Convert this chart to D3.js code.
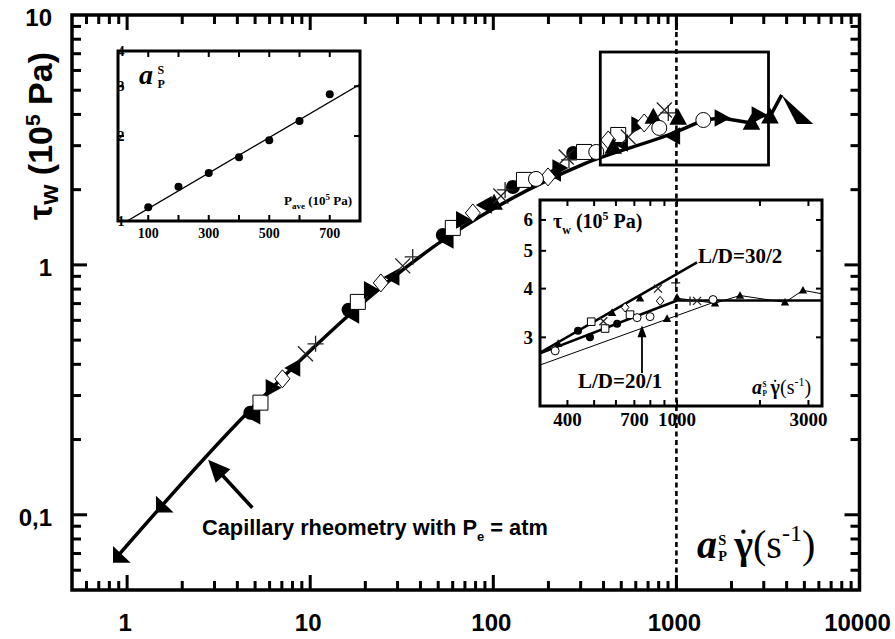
<!DOCTYPE html>
<html><head><meta charset="utf-8">
<script src="https://cdn.jsdelivr.net/npm/d3@7"></script>
<style>body{margin:0;background:#fff}svg{display:block}</style>
</head><body>
<svg id="c" width="895" height="639"></svg>
<script>
// ---------------- DATA ----------------
const xDomain = [0.5, 10000], yDomain = [0.05, 10];
const xTickValues = [1, 10, 100, 1000, 10000], xTickLabels = ["1", "10", "100", "1000", "10000"];
const yTickValues = [0.1, 1, 10], yTickLabels = ["0,1", "1", "10"];
const criticalRate = 1000;
const zoomBox = [[384, 2.51], [3184, 7.11]];

const masterCurve = [[0.881,0.0679],[4.54,0.256],[56.4,1.294],[318,2.547],[1000,3.41],[1403,3.80]];
const highRateLine = [[1403,3.80],[1762,3.87],[2570,3.70],[2806,3.98],[3243,3.92],[3758,4.79]];
const bigTriangle = [[3758,4.79],[5593,3.66],[4538,3.66]];
const annotArrow = [[4.83,0.1067],[2.77,0.166]];

const mainFilledCircle = [[4.71,0.256],[16.2,0.661],[53.0,1.318],[128,2.051],[273,2.805]];
const mainOpenSquare = [[5.35,0.281],[18.2,0.711],[60.1,1.406],[147,2.188],[313,2.831],[481,3.311]];
const mainTriRight = [[6.22,0.322],[21.4,0.794],[68.2,1.514],[229,2.443],[618,3.631],[1762,3.87],[2806,3.98]];
const mainOpenDiamond = [[7.05,0.350],[24.3,0.847],[77.3,1.614],[199,2.249],[424,3.162],[667,3.698]];
const mainTriLeft = [[4.90,0.249],[8.10,0.387],[17.0,0.631],[28.2,0.895],[55.7,1.259],[90.0,1.738],[215,2.333],[499,3.076],[962,3.281]];
const mainTriCorner = [[0.926,0.0692],[1.59,0.110]];
const mainCross = [[9.42,0.441],[32.0,0.991],[110,1.888],[250,2.704],[546,3.251],[859,4.169]];
const mainPlus = [[10.7,0.483],[36.3,1.076],[116,1.995],[259,2.630],[903,4.055]];
const mainOpenCircle = [[171,2.208],[365,2.831],[806,3.532],[1403,3.80]];
const mainTriUp = [[101,1.770],[452,2.965],[748,3.908],[1023,3.873],[2570,3.70],[3243,3.92]];

// inset 1 : shift factor vs average pressure
const pressure = [100, 200, 300, 400, 500, 600, 700];
const shiftFactor = [1.118, 1.323, 1.479, 1.681, 1.93, 2.26, 2.81];
const shiftFit = [[30, 1.0], [800, 3.05]];
const in1XDomain = [0, 800], in1YDomain = [1, 4];
const in1XTickLabels = [100, 300, 500, 700], in1YTickLabels = [1, 2, 3, 4];
const in1XTicks = [100, 200, 300, 400, 500, 600, 700];

// inset 2 : zoom near the critical rate
const in2XDomain = [318, 3360], in2YDomain = [2, 6.75];
const in2XTickLabels = [400, 700, 1000, 3000], in2YTickLabels = [3, 4, 5, 6];
const in2XTicks = [400, 500, 600, 700, 800, 900, 1000, 2000, 3000];
const ld30Line = [[318,2.74],[1182,4.67]];
const ldMidLine = [[318,2.73],[1000,3.73],[3360,3.73]];
const ld20Line = [[318,2.547],[1374,3.70]];
const insetHighLine = [[1000,3.78],[1374,3.67],[1693,3.84],[2466,3.69],[2866,3.96],[3360,3.88]];
const ld20Arrow = [[746,2.43],[746,3.22]];
const insetFilledCircle = [[437,3.12],[483,3.0],[606,3.25]];
const insetOpenSquare = [[488,3.29],[548,3.16],[675,3.43]];
const insetTriUp = [[370,2.89],[581,3.47],[734,3.78],[1000,3.80],[920,3.35],[1374,3.67],[1693,3.84],[2466,3.69],[2866,3.96]];
const insetOpenDiamond = [[648,3.58],[868,3.72]];
const insetCross = [[853,4.00],[1182,3.72],[540,3.30]];
const insetPlus = [[989,4.14],[1115,3.72]];
const insetOpenCircle = [[361,2.77],[716,3.37],[798,3.39],[1351,3.75]];

// main-axis tick positions (decade multiples)
const xMajorTicks = [1, 10, 100, 1000];
const xMinorTicks = [0.6,0.7,0.8,0.9, 2,3,4,5,6,7,8,9, 20,30,40,50,60,70,80,90,
  200,300,400,500,600,700,800,900, 2000,3000,4000,5000,6000,7000,8000,9000];
const yMajorTicks = [0.1, 1];
const yMinorTicks = [0.06,0.07,0.08,0.09, 0.2,0.3,0.4,0.5,0.6,0.7,0.8,0.9, 2,3,4,5,6,7,8,9];

// ---------------- LAYOUT ----------------
const SANS = '"Liberation Sans", Arial, Helvetica, sans-serif';
const SERIF = '"Liberation Serif", "Times New Roman", Times, serif';
const M = {l: 72, r: 859.5, t: 15, b: 590};
const I1 = {l: 118, r: 360, t: 51, b: 221};
const I2 = {l: 540, r: 822, t: 200, b: 406};

const svg = d3.select('#c');
const x = d3.scaleLog().domain(xDomain).range([M.l, M.r]);
const y = d3.scaleLog().domain(yDomain).range([M.b, M.t]);
const x1 = d3.scaleLinear().domain(in1XDomain).range([I1.l, I1.r]);
const y1 = d3.scaleLog().domain(in1YDomain).range([I1.b, I1.t]);
const x2 = d3.scaleLog().domain(in2XDomain).range([I2.l, I2.r]);
const y2 = d3.scaleLog().domain(in2YDomain).range([I2.b, I2.t]);

function shapePath(shape, h) {
  switch (shape) {
    case 'circle': return `M${h},0A${h},${h} 0 1,1 ${-h},0A${h},${h} 0 1,1 ${h},0Z`;
    case 'square': return `M${-h},${-h}h${2*h}v${2*h}h${-2*h}Z`;
    case 'diamond': return `M0,${-1.2*h}L${h},0L0,${1.2*h}L${-h},0Z`;
    case 'triUp': return `M0,${-1.15*h}L${1.1*h},${0.85*h}L${-1.1*h},${0.85*h}Z`;
    case 'triRight': return `M${1.15*h},0L${-0.85*h},${1.1*h}L${-0.85*h},${-1.1*h}Z`;
    case 'triLeft': return `M${-1.15*h},0L${0.85*h},${-1.1*h}L${0.85*h},${1.1*h}Z`;
    case 'corner': return `M${-h},${-1.1*h}L${-h},${h}L${1.2*h},${h}Z`;
    case 'cross': return `M${-h},${-h}L${h},${h}M${-h},${h}L${h},${-h}`;
    case 'plus': return `M${-h},0L${h},0M0,${-h}L0,${h}`;
  }
}
function drawSeries(g, data, xs, ys, shape, h, style) {
  const sel = g.append('g').selectAll('path').data(data).join('path')
    .attr('d', shapePath(shape, h))
    .attr('transform', d => `translate(${xs(d[0])},${ys(d[1])})`);
  if (style === 'filled') sel.attr('fill', '#000');
  else if (style === 'open') sel.attr('fill', '#fff').attr('stroke', '#000').attr('stroke-width', 1);
  else sel.attr('fill', 'none').attr('stroke', '#222').attr('stroke-width', 1.3);
}
function drawLine(g, data, xs, ys, w, curve) {
  g.append('path').datum(data)
    .attr('d', d3.line().x(d => xs(d[0])).y(d => ys(d[1])).curve(curve || d3.curveLinear))
    .attr('fill', 'none').attr('stroke', '#000').attr('stroke-width', w)
    .attr('stroke-linejoin', 'round');
}
function drawArrow(g, data, xs, ys, w, len, half) {
  const x0 = xs(data[0][0]), y0 = ys(data[0][1]), xa = xs(data[1][0]), ya = ys(data[1][1]);
  const ang = Math.atan2(ya - y0, xa - x0);
  const bx = xa - len * Math.cos(ang), by = ya - len * Math.sin(ang);
  g.append('path').attr('d', `M${x0},${y0}L${bx + 2*Math.cos(ang)},${by + 2*Math.sin(ang)}`)
    .attr('fill', 'none').attr('stroke', '#000').attr('stroke-width', w);
  const px = -Math.sin(ang), py = Math.cos(ang);
  g.append('path').attr('d', `M${xa},${ya}L${bx + half*px},${by + half*py}L${bx - half*px},${by - half*py}Z`).attr('fill', '#000');
}
// frame first, then inward ticks as filled rects on top of it
function frameAndTicks(parent, xs, ys, B, xMaj, xMin, yMaj, yMin, LM, Lm, tw, fw) {
  parent.append('rect').attr('x', B.l).attr('y', B.t).attr('width', B.r - B.l).attr('height', B.b - B.t)
    .attr('fill', 'none').attr('stroke', '#000').attr('stroke-width', fw);
  const addV = (v, L) => {
    const p = xs(v);
    parent.append('rect').attr('x', p - tw / 2).attr('y', B.b - L).attr('width', tw).attr('height', L).attr('fill', '#000');
    parent.append('rect').attr('x', p - tw / 2).attr('y', B.t).attr('width', tw).attr('height', L).attr('fill', '#000');
  };
  const addH = (v, L) => {
    const p = ys(v);
    parent.append('rect').attr('x', B.l).attr('y', p - tw / 2).attr('width', L).attr('height', tw).attr('fill', '#000');
    parent.append('rect').attr('x', B.r - L).attr('y', p - tw / 2).attr('width', L).attr('height', tw).attr('fill', '#000');
  };
  xMaj.forEach(v => addV(v, LM)); xMin.forEach(v => addV(v, Lm));
  yMaj.forEach(v => addH(v, LM)); yMin.forEach(v => addH(v, Lm));
}

// ---------------- MAIN AXES ----------------
frameAndTicks(svg, x, y, M, xMajorTicks, xMinorTicks, yMajorTicks, yMinorTicks, 15, 9, 3, 3.5);

const gLab = svg.append('g').attr('font-family', SANS).attr('font-weight', 'bold').attr('font-size', 24).attr('fill', '#000');
xTickValues.forEach((v, i) => gLab.append('text').attr('x', x(v) - 2).attr('y', 631).attr('text-anchor', 'middle').text(xTickLabels[i]));
yTickValues.forEach((v, i) => gLab.append('text').attr('x', 52).attr('y', y(v) + 11).attr('text-anchor', 'end').text(yTickLabels[i]));

// y title
const yt = svg.append('text').attr('transform', 'translate(52,136) rotate(-90)').attr('text-anchor', 'middle')
  .attr('font-family', SANS).attr('font-weight', 'bold').attr('font-size', 34);
yt.append('tspan').text('τ');
yt.append('tspan').attr('font-size', 26).attr('dy', 6).text('w');
yt.append('tspan').attr('dy', -6).text(' (10');
yt.append('tspan').attr('font-size', 21).attr('dy', -12).text('5');
yt.append('tspan').attr('dy', 12).text(' Pa)');

// rate label helper: a_P^S [gamma-dot (s^-1)]
function rateLabel(x0, base, fs, withRate) {
  const g = svg.append('g').attr('font-family', SERIF).attr('fill', '#000');
  g.append('text').attr('x', x0).attr('y', base).attr('font-size', fs).attr('font-weight', 'bold').attr('font-style', 'italic').text('a');
  const ss = withRate ? fs * 0.36 : 12;
  const sx = x0 + fs * (withRate ? 0.53 : 0.66);
  const sp = g.append('text').attr('font-size', ss).attr('font-weight', 'bold');
  sp.append('tspan').attr('x', sx).attr('y', base - fs * (withRate ? 0.33 : 0.37)).text('S');
  sp.append('tspan').attr('x', sx).attr('y', base + fs * (withRate ? 0.08 : 0.14)).text('P');
  if (!withRate) return;
  const gx = x0 + fs * 0.93;
  g.append('text').attr('x', gx).attr('y', base).attr('font-size', fs).attr('font-weight', 'bold').text('γ');
  g.append('circle').attr('cx', gx + fs * 0.23).attr('cy', base - fs * 0.66).attr('r', fs * 0.055).attr('fill', '#000');
  const t = g.append('text').attr('x', x0 + fs * 1.4).attr('y', base).attr('font-size', fs);
  t.append('tspan').text('(s');
  t.append('tspan').attr('font-size', fs * 0.6).attr('dy', -fs * 0.42).text('-1');
  t.append('tspan').attr('dy', fs * 0.42).text(')');
}
rateLabel(697, 558, 40, true);

// ---------------- MAIN DATA ----------------
const gD = svg.append('g');
drawLine(gD, masterCurve, x, y, 3.5, d3.curveMonotoneX);
drawLine(gD, highRateLine, x, y, 3.5);
gD.append('path').datum(bigTriangle)
  .attr('d', d => 'M' + d.map(p => `${x(p[0])},${y(p[1])}`).join('L') + 'Z').attr('fill', '#000');
drawSeries(gD, mainTriCorner, x, y, 'corner', 8, 'filled');
drawSeries(gD, mainTriLeft, x, y, 'triLeft', 8, 'filled');
drawSeries(gD, mainFilledCircle, x, y, 'circle', 7, 'filled');
drawSeries(gD, mainOpenSquare, x, y, 'square', 7.5, 'open');
drawSeries(gD, mainTriRight, x, y, 'triRight', 8, 'filled');
drawSeries(gD, mainOpenDiamond, x, y, 'diamond', 7.5, 'open');
drawSeries(gD, mainTriUp, x, y, 'triUp', 8, 'filled');
drawSeries(gD, mainOpenCircle, x, y, 'circle', 7.5, 'open');
drawSeries(gD, mainCross, x, y, 'cross', 7.5, 'line');
drawSeries(gD, mainPlus, x, y, 'plus', 8, 'line');

// zoom box
svg.append('rect').attr('x', x(zoomBox[0][0])).attr('y', y(zoomBox[1][1]))
  .attr('width', x(zoomBox[1][0]) - x(zoomBox[0][0])).attr('height', y(zoomBox[0][1]) - y(zoomBox[1][1]))
  .attr('fill', 'none').attr('stroke', '#000').attr('stroke-width', 2.8);

// annotation
drawArrow(svg, annotArrow, x, y, 3.5, 22, 10);
const an = svg.append('text').attr('x', 202).attr('y', 535).attr('font-family', SANS).attr('font-weight', 'bold').attr('font-size', 21.8);
an.append('tspan').text('Capillary rheometry with P');
an.append('tspan').attr('font-size', 13).attr('dy', 6).text('e');
an.append('tspan').attr('dy', -6).text(' = atm');

// ---------------- INSET 1 ----------------
const g1 = svg.append('g');
g1.append('rect').attr('x', I1.l).attr('y', I1.t).attr('width', I1.r - I1.l).attr('height', I1.b - I1.t).attr('fill', '#fff');
const cp1 = svg.append('clipPath').attr('id', 'cp1');
cp1.append('rect').attr('x', I1.l).attr('y', I1.t).attr('width', I1.r - I1.l).attr('height', I1.b - I1.t);
const g1c = g1.append('g').attr('clip-path', 'url(#cp1)');
drawLine(g1c, shiftFit, x1, y1, 1.4);
g1c.selectAll('circle.p').data(pressure).join('circle').attr('class', 'p')
  .attr('cx', d => x1(d)).attr('cy', (d, i) => y1(shiftFactor[i])).attr('r', 4).attr('fill', '#000');
frameAndTicks(g1, x1, y1, I1, in1XTicks, [], in1YTickLabels, [], 6, 6, 2, 3);
const gl1 = g1.append('g').attr('font-family', SERIF).attr('font-weight', 'bold').attr('fill', '#000');
in1XTickLabels.forEach(v => gl1.append('text').attr('x', x1(v)).attr('y', 238).attr('text-anchor', 'middle').attr('font-size', 14).text(v));
in1YTickLabels.forEach(v => gl1.append('text').attr('x', I1.l + 6.5).attr('y', y1(v) + 4.5).attr('text-anchor', 'end').attr('font-size', 14).text(v));
const pl = gl1.append('text').attr('x', 352).attr('y', 205).attr('text-anchor', 'end').attr('font-size', 13);
pl.append('tspan').text('P');
pl.append('tspan').attr('font-size', 9).attr('dy', 4).text('ave');
pl.append('tspan').attr('dy', -4).text(' (10');
pl.append('tspan').attr('font-size', 9).attr('dy', -5).text('5');
pl.append('tspan').attr('dy', 5).text(' Pa)');
rateLabel(139, 84, 28, false);

// ---------------- INSET 2 ----------------
const g2 = svg.append('g');
g2.append('rect').attr('x', I2.l).attr('y', I2.t).attr('width', I2.r - I2.l).attr('height', I2.b - I2.t).attr('fill', '#fff');
const cp2 = svg.append('clipPath').attr('id', 'cp2');
cp2.append('rect').attr('x', I2.l).attr('y', I2.t).attr('width', I2.r - I2.l).attr('height', I2.b - I2.t);
const g2c = g2.append('g').attr('clip-path', 'url(#cp2)');
drawLine(g2c, ld20Line, x2, y2, 1);
drawLine(g2c, insetHighLine, x2, y2, 1);
drawLine(g2c, ldMidLine, x2, y2, 2.6);
drawLine(g2c, ld30Line, x2, y2, 2.6);
drawSeries(g2c, insetTriUp, x2, y2, 'triUp', 3.8, 'filled');
drawSeries(g2c, insetFilledCircle, x2, y2, 'circle', 4, 'filled');
drawSeries(g2c, insetOpenSquare, x2, y2, 'square', 3.8, 'open');
drawSeries(g2c, insetOpenDiamond, x2, y2, 'diamond', 3.8, 'open');
drawSeries(g2c, insetOpenCircle, x2, y2, 'circle', 4, 'open');
drawSeries(g2c, insetCross, x2, y2, 'cross', 4, 'line');
drawSeries(g2c, insetPlus, x2, y2, 'plus', 4.5, 'line');
drawArrow(g2, ld20Arrow, x2, y2, 1.8, 12, 4.5);
frameAndTicks(g2, x2, y2, I2, in2XTicks, [], in2YTickLabels, [], 6, 6, 2, 3);
const gl2 = g2.append('g').attr('font-family', SERIF).attr('font-weight', 'bold').attr('fill', '#000').attr('font-size', 19);
in2XTickLabels.forEach(v => gl2.append('text').attr('x', x2(v)).attr('y', 426).attr('text-anchor', 'middle').text(v));
in2YTickLabels.forEach(v => gl2.append('text').attr('x', 533).attr('y', y2(v) + 6.5).attr('text-anchor', 'end').text(v));
const tl = gl2.append('text').attr('x', 553).attr('y', 228).attr('font-size', 20);
tl.append('tspan').text('τ');
tl.append('tspan').attr('font-size', 12).attr('dy', 6).text('w');
tl.append('tspan').attr('dy', -6).text(' (10');
tl.append('tspan').attr('font-size', 12).attr('dy', -8).text('5');
tl.append('tspan').attr('dy', 8).text(' Pa)');
gl2.append('text').attr('x', 698).attr('y', 263).attr('font-size', 21).text('L/D=30/2');
gl2.append('text').attr('x', 578).attr('y', 388).attr('font-size', 21).text('L/D=20/1');
rateLabel(752, 394, 20, true);

// ---------------- CRITICAL RATE LINE ----------------
svg.append('path').attr('d', `M${x(criticalRate)},${M.t}L${x(criticalRate)},${M.b}`)
  .attr('fill', 'none').attr('stroke', '#000').attr('stroke-width', 2.6).attr('stroke-dasharray', '5,3.5');
</script></body></html>
